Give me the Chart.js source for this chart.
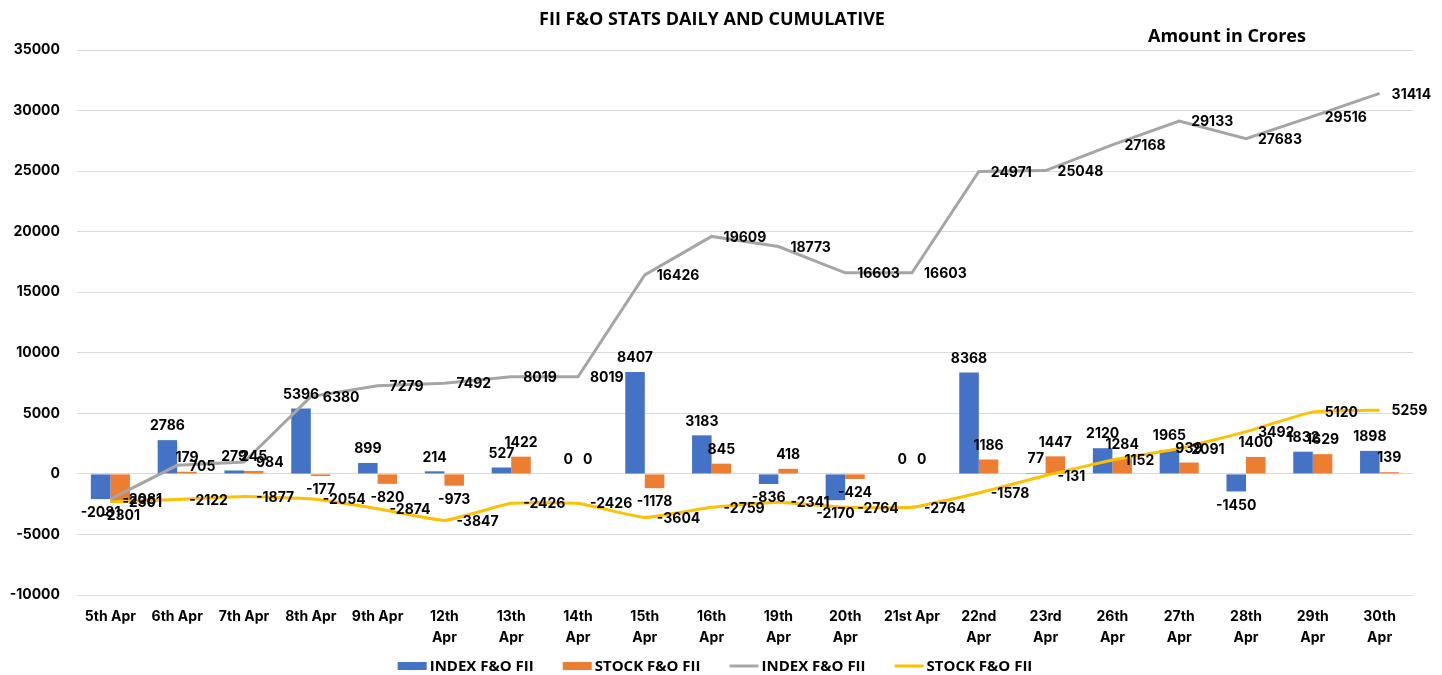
<!DOCTYPE html>
<html><head><meta charset="utf-8">
<script src="https://cdn.jsdelivr.net/npm/chart.js@4/dist/chart.umd.min.js"></script>
<style>html,body{margin:0;padding:0;background:#fff;}#wrap{width:1442px;height:675px;}</style>
</head><body><div id="wrap"><canvas id="c" width="1442" height="675"></canvas></div>
<script>
const categories = ['5th Apr','6th Apr','7th Apr','8th Apr','9th Apr',['12th','Apr'],['13th','Apr'],['14th','Apr'],['15th','Apr'],['16th','Apr'],['19th','Apr'],['20th','Apr'],['21st Apr'],['22nd','Apr'],['23rd','Apr'],['26th','Apr'],['27th','Apr'],['28th','Apr'],['29th','Apr'],['30th','Apr']];
const indexDaily = [-2081, 2786, 279, 5396, 899, 214, 527, 0, 8407, 3183, -836, -2170, 0, 8368, 77, 2120, 1965, -1450, 1832, 1898];
const stockDaily = [-2301, 179, 245, -177, -820, -973, 1422, 0, -1178, 845, 418, -424, 0, 1186, 1447, 1284, 939, 1400, 1629, 139];
const indexCumulative = [-2081, 705, 984, 6380, 7279, 7492, 8019, 8019, 16426, 19609, 18773, 16603, 16603, 24971, 25048, 27168, 29133, 27683, 29516, 31414];
const stockCumulative = [-2301, -2122, -1877, -2054, -2874, -3847, -2426, -2426, -3604, -2759, -2341, -2764, -2764, -1578, -131, 1152, 2091, 3492, 5120, 5259];
const yMin = -10000, yMax = 35000, yStep = 5000;
const titleText = 'FII F&O STATS DAILY AND CUMULATIVE';
const unitText = 'Amount in Crores';

const LABEL_FONT = 'bold 14px Inter';

const textPlugin = {
  id: 'texts',
  afterDraw(chart) {
    const ctx = chart.ctx, ca = chart.chartArea;
    ctx.save();
    ctx.fillStyle = '#000';
    ctx.textBaseline = 'middle';
    ctx.font = 'bold 18px "Open Sans"';
    ctx.textAlign = 'center';
    ctx.fillText(titleText, chart.width / 2 - 9, 20);
    ctx.textAlign = 'left';
    ctx.fillText(unitText, ca.right - 265, ca.top - 13);
    // legend
    ctx.font = 'bold 15px "Open Sans"';
    const boxW = 29, gapBT = 3, gapItem = 29;
    const items = chart.data.datasets.map(ds => ({
      text: ds.label, type: ds.type,
      color: ds.type === 'bar' ? ds.backgroundColor : ds.borderColor,
      w: boxW + gapBT + ctx.measureText(ds.label).width
    }));
    const total = items.reduce((s, it) => s + it.w, 0) + gapItem * (items.length - 1);
    let x = chart.width / 2 - 6 - total / 2;
    const y = 666;
    items.forEach(it => {
      if (it.type === 'bar') {
        ctx.fillStyle = it.color;
        ctx.fillRect(x, y - 4, boxW, 8);
      } else {
        ctx.strokeStyle = it.color;
        ctx.lineWidth = 3;
        ctx.beginPath(); ctx.moveTo(x, y); ctx.lineTo(x + boxW, y); ctx.stroke();
      }
      ctx.fillStyle = '#000';
      ctx.fillText(it.text, x + boxW + gapBT, y + 1);
      x += it.w + gapItem;
    });
    ctx.restore();
  }
};

const labelPlugin = {
  id: 'valueLabels',
  afterDatasetsDraw(chart) {
    const ctx = chart.ctx;
    ctx.save();
    ctx.font = LABEL_FONT;
    ctx.fillStyle = '#000';
    ctx.textBaseline = 'middle';
    chart.data.datasets.forEach((ds, di) => {
      const meta = chart.getDatasetMeta(di);
      meta.data.forEach((el, i) => {
        const v = ds.data[i];
        const t = String(v);
        if (ds.type === 'bar') {
          ctx.textAlign = 'center';
          const top = Math.min(el.y, el.base), bot = Math.max(el.y, el.base);
          const yy = v >= 0 ? top - 14 : bot + 14;
          ctx.fillText(t, el.x, yy);
        } else {
          ctx.textAlign = 'left';
          ctx.fillText(t, el.x + 12, el.y + 1);
        }
      });
    });
    ctx.restore();
  }
};

new Chart(document.getElementById('c'), {
  data: {
    labels: categories,
    datasets: [
      { type: 'bar', label: 'INDEX F&O FII', data: indexDaily, backgroundColor: '#4472c4', order: 1,
        categoryPercentage: 0.585, barPercentage: 1.0 },
      { type: 'bar', label: 'STOCK F&O FII', data: stockDaily, backgroundColor: '#ed7d31', order: 1,
        categoryPercentage: 0.585, barPercentage: 1.0 },
      { type: 'line', label: 'INDEX F&O FII', data: indexCumulative, borderColor: '#a5a5a5', backgroundColor: '#a5a5a5',
        borderWidth: 3, pointRadius: 0, tension: 0, order: 0 },
      { type: 'line', label: 'STOCK F&O FII', data: stockCumulative, borderColor: '#ffc000', backgroundColor: '#ffc000',
        borderWidth: 3, pointRadius: 0, tension: 0.1, order: 0 }
    ]
  },
  options: {
    responsive: false,
    animation: false,
    devicePixelRatio: 1,
    layout: { padding: { left: 0, right: 29, top: 50, bottom: 25 } },
    plugins: { legend: { display: false }, title: { display: false }, tooltip: { enabled: false } },
    scales: {
      x: {
        grid: { display: false, drawTicks: false },
        border: { display: false },
        ticks: { color: '#000', font: { family: 'Inter', weight: 'bold', size: 14, lineHeight: 1.45 },
                 maxRotation: 0, minRotation: 0, autoSkip: false, padding: 12 },
        afterFit(s) { s.height = 55; }
      },
      y: {
        min: yMin, max: yMax,
        grid: { color: '#d9d9d9', lineWidth: 1, drawTicks: false },
        border: { display: false },
        ticks: { stepSize: yStep, color: '#000', font: { family: 'Inter', weight: 'bold', size: 14 }, padding: 17,
                 callback: (v) => String(v) },
        afterFit(s) { s.width = 77; }
      }
    }
  },
  plugins: [labelPlugin, textPlugin]
});
</script>
</body></html>
